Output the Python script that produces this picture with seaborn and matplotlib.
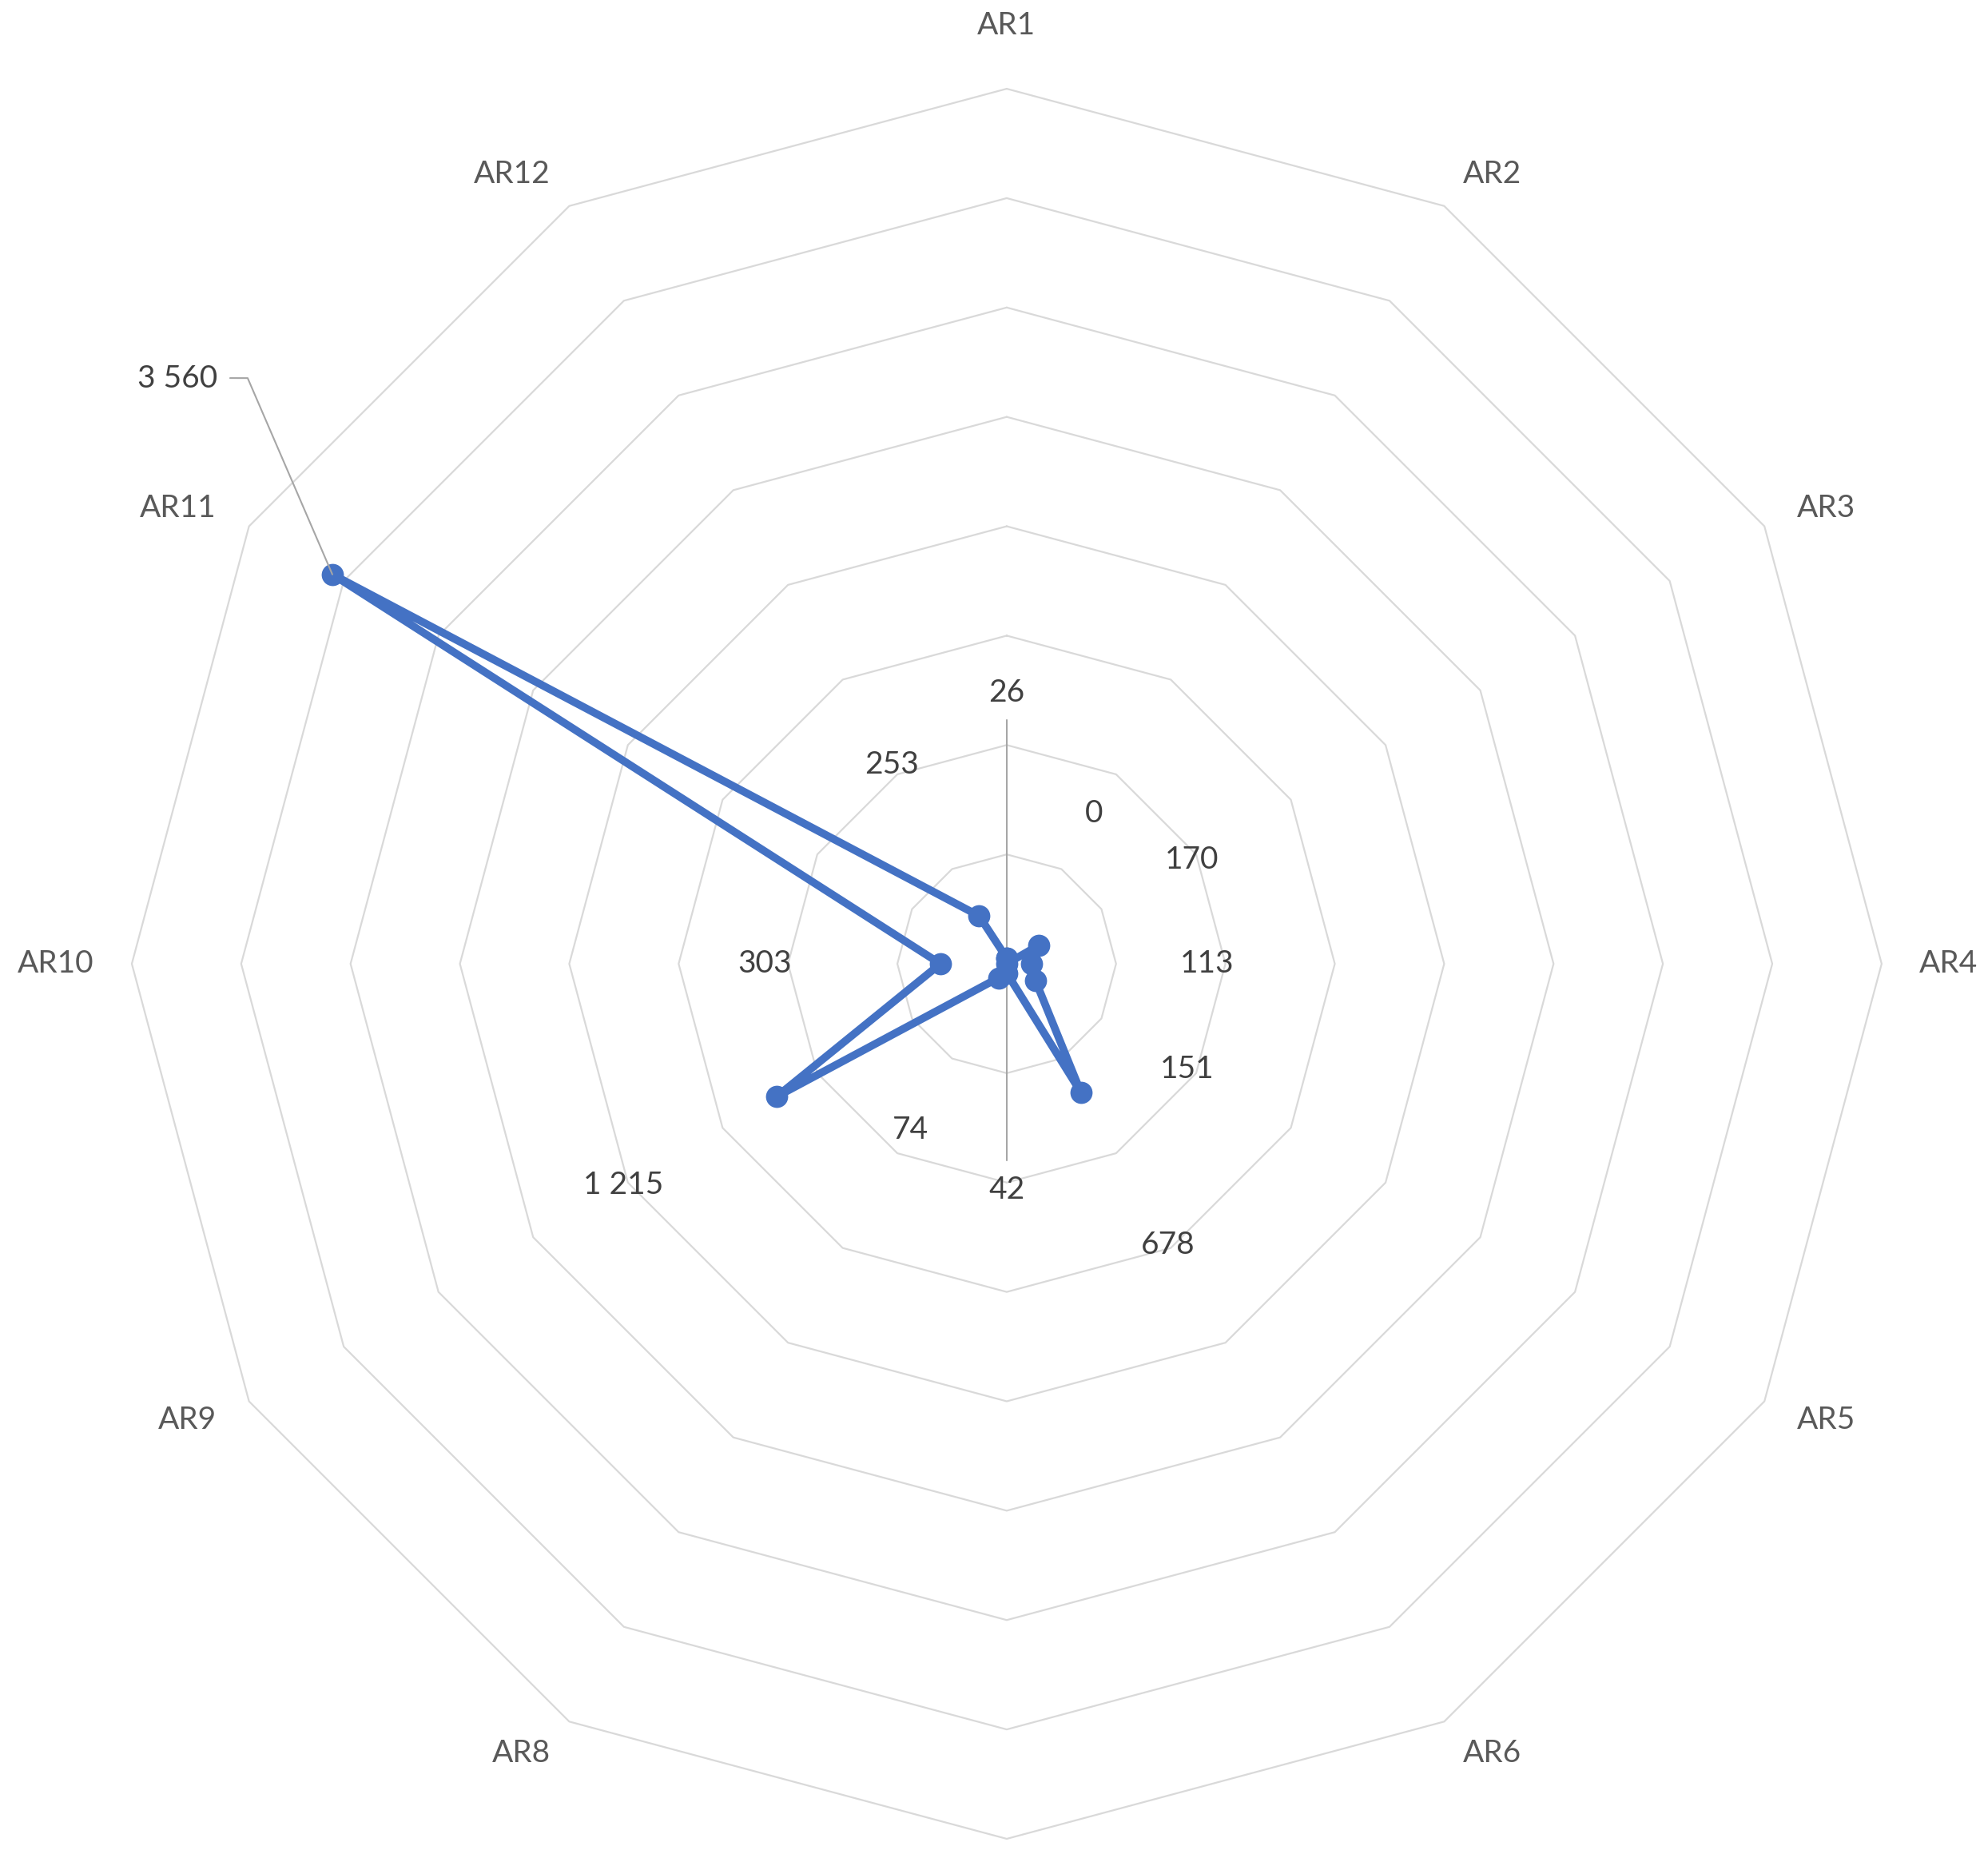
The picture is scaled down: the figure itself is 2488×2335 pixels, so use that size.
import numpy as np
import pandas as pd
import matplotlib
matplotlib.use("Agg")
import matplotlib.pyplot as plt
import seaborn as sns

# DATOS
categorias = ["AR1", "AR2", "AR3", "AR4", "AR5", "AR6",
              "AR7", "AR8", "AR9", "AR10", "AR11", "AR12"]
valores = [26, 0, 170, 113, 151, 678, 42, 74, 1215, 303, 3560, 253]
etiquetas = ["26", "0", "170", "113", "151", "678", "42", "74",
             "1 215", "303", "3 560", "253"]

# posición manual de las etiquetas de datos (ángulo en grados, radio)
etiq_ang = [0, 30, 60.7, 90, 120.3, 150.2, 180, 210, 240, 270, 305.2, 330]
etiq_rad = [1240, 795, 971, 916, 954, 1483, 1032, 878, 2023, 1107, 4638, 1052]

escala_max = 4000
paso = 500

sns.set_theme(style="white")
plt.rcParams['font.family'] = ['Lato', 'DejaVu Sans']

n = len(categorias)
angulos = np.arange(n) * 2 * np.pi / n

fig = plt.figure(figsize=(24.88, 23.35), dpi=100)
ax = fig.add_axes([0.5064 - 0.4401, 0.4835 - 0.469, 0.8802, 0.938], projection='polar')
ax.set_theta_zero_location('N')
ax.set_theta_direction(-1)
ax.set_ylim(0, escala_max)
ax.grid(False)
ax.set_xticks([])
ax.set_yticks([])
ax.spines['polar'].set_visible(False)

# anillos poligonales
ang_cerrado = np.append(angulos, 2 * np.pi)
for nivel in np.arange(paso, escala_max + 1, paso):
    ax.plot(ang_cerrado, [nivel] * (n + 1), color='#D9D9D9', lw=1.6, zorder=1, clip_on=False)

# etiquetas de categorías (al estilo Excel, fuera de cada vértice)
for ang, cat in zip(angulos, categorias):
    s, c = np.sin(ang), np.cos(ang)
    if abs(s) < 0.01:
        if c < 0:
            continue  # AR7 queda fuera del recorte de la imagen original
        ha, dx, dy = 'center', 0, 79
    else:
        ha = 'left' if s > 0 else 'right'
        dx, dy = 47 * s, 46 * c
    ax.annotate(cat, xy=(ang, escala_max), xytext=(dx, dy), textcoords='offset pixels',
                ha=ha, va='center', fontsize=28, color='#595959', annotation_clip=False)

# serie
df = pd.DataFrame({'theta': ang_cerrado, 'valor': valores + [valores[0]]})
sns.lineplot(data=df, x='theta', y='valor', sort=False, estimator=None, ax=ax,
             color='#4472C4', lw=7, marker='o', markersize=20,
             markeredgewidth=0, zorder=3)
ax.set_xlabel('')
ax.set_ylabel('')

# líneas guía
guia = '#A6A6A6'
ax.plot([0, 0], [1113, valores[0]], color=guia, lw=1.5, zorder=2)
ax.plot([np.pi, np.pi], [899, valores[6]], color=guia, lw=1.5, zorder=2)
ax.plot(np.radians([307.02, 307.65]).tolist() + [angulos[10]], [4447, 4383, valores[10]],
        color=guia, lw=1.5, zorder=4, clip_on=False)

# etiquetas de datos
for a, r, t in zip(etiq_ang, etiq_rad, etiquetas):
    ax.text(np.radians(a), r, t, ha='center', va='center', fontsize=28, color='#404040')

fig.savefig('out.png', dpi=100, facecolor='white')
